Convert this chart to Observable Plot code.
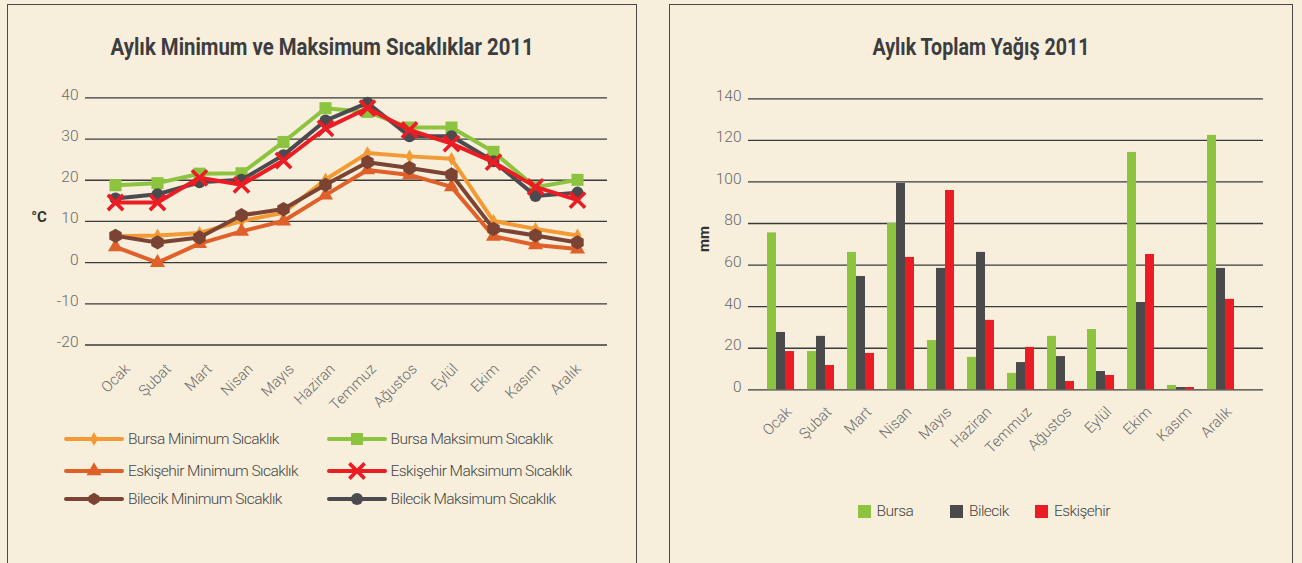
<!DOCTYPE html>
<html><head><meta charset="utf-8">
<script src="https://cdn.jsdelivr.net/npm/d3@7"></script>
<script src="https://cdn.jsdelivr.net/npm/@observablehq/plot@0.6"></script>
<style>
html,body{margin:0;padding:0;background:#F7EFDC;width:1302px;height:563px;overflow:hidden;}
#root{position:relative;width:1302px;height:563px;font-family:Roboto,"Noto Sans",sans-serif;}
.panel{position:absolute;top:4px;height:640px;border:1.6px solid #4a4a4a;box-sizing:border-box;}
.title{position:absolute;font-weight:700;color:#3d3d3f;white-space:nowrap;font-size:23px;line-height:1;}
.abs{position:absolute;}
.lg{position:absolute;display:flex;align-items:center;font-weight:300;font-size:15.5px;color:#444;white-space:nowrap;letter-spacing:-0.55px;}
.lg svg{margin-right:6px;overflow:visible;}
.ylab{position:absolute;font-weight:700;color:#333;font-size:15px;transform:translate(-50%,-50%);}
svg{overflow:visible;}
</style></head>
<body><div id="root"></div>
<script>
// ---------- data ----------
const months = ["Ocak","Şubat","Mart","Nisan","Mayıs","Haziran","Temmuz","Ağustos","Eylül","Ekim","Kasım","Aralık"];
const tempTicks = [-20,-10,0,10,20,30,40];
const rainTicks = [0,20,40,60,80,100,120,140];

const bursaMin     = [6.4, 6.6, 7.2, 10.1, 12.1, 20.2, 26.6, 25.8, 25.2, 10.1, 8.2, 6.6];
const eskisehirMin = [3.8, 0.0, 4.6, 7.6, 10.1, 16.4, 22.5, 21.3, 18.4, 6.4, 4.3, 3.3];
const bilecikMin   = [6.5, 4.9, 6.1, 11.5, 13.0, 18.9, 24.4, 23.0, 21.4, 8.2, 6.6, 4.9];
const bursaMax     = [18.8, 19.3, 21.6, 21.7, 29.3, 37.5, 36.6, 32.8, 32.8, 26.9, 18.3, 20.1];
const bilecikMax   = [15.6, 16.6, 19.5, 20.1, 26.1, 34.5, 38.8, 30.7, 30.7, 24.6, 16.2, 17.0];
const eskisehirMax = [14.6, 14.6, 20.6, 18.9, 24.8, 32.6, 37.5, 32.2, 28.9, 24.4, 18.4, 15.2];

const bursaRain     = [75.5, 18.4, 66.1, 80.0, 23.7, 15.6, 7.9, 25.7, 29.0, 114.2, 2.1, 122.4];
const bilecikRain   = [27.6, 25.7, 54.5, 99.3, 58.4, 66.1, 13.1, 16.0, 8.8, 42.0, 1.1, 58.4];
const eskisehirRain = [18.4, 11.7, 17.5, 63.7, 95.9, 33.4, 20.4, 4.0, 6.9, 65.1, 1.1, 43.5];

const tempTitle = "Aylık Minimum ve Maksimum Sıcaklıklar 2011";
const rainTitle = "Aylık Toplam Yağış 2011";

// series definitions (drawing order)
const tempSeries = [
  {name:"Bursa Minimum Sıcaklık", values: bursaMin, color:"#F39A34", symbol:"diamond", r:4.2},
  {name:"Eskişehir Minimum Sıcaklık", values: eskisehirMin, color:"#E0602A", symbol:"triangle", r:5.6},
  {name:"Bilecik Minimum Sıcaklık", values: bilecikMin, color:"#7A4334", symbol:"hexagon", r:6.2},
  {name:"Bursa Maksimum Sıcaklık", values: bursaMax, color:"#8CC43F", symbol:"square", r:6.8},
  {name:"Bilecik Maksimum Sıcaklık", values: bilecikMax, color:"#4A4A4F", symbol:"circle", r:6},
  {name:"Eskişehir Maksimum Sıcaklık", values: eskisehirMax, color:"#EC1C24", symbol:"times", r:7}
];
const legendOrder = [
  ["Bursa Minimum Sıcaklık","Bursa Maksimum Sıcaklık"],
  ["Eskişehir Minimum Sıcaklık","Eskişehir Maksimum Sıcaklık"],
  ["Bilecik Minimum Sıcaklık","Bilecik Maksimum Sıcaklık"]
];
const rainSeries = [
  {name:"Bursa", values: bursaRain, color:"#8CC43F"},
  {name:"Bilecik", values: bilecikRain, color:"#4A4A4D"},
  {name:"Eskişehir", values: eskisehirRain, color:"#EC1C24"}
];

const root = document.getElementById("root");
function el(tag, cls, css, text){const e=document.createElement(tag); if(cls) e.className=cls; if(css) Object.assign(e.style, css); if(text!=null) e.textContent=text; root.appendChild(e); return e;}

// panels
el("div","panel",{left:"7px",width:"630px"});
el("div","panel",{left:"669px",width:"624px"});
function title(text, cx, cy, targetW){
  const t = el("div","title",{left:"0px",top:"0px"},text);
  const w = t.offsetWidth, h = t.offsetHeight;
  const k = targetW / w;
  t.style.left = (cx - w/2) + "px";
  t.style.top = (cy - h/2) + "px";
  t.style.transform = `scaleX(${k})`;
  t.style.transformOrigin = "50% 50%";
}
title(tempTitle, 322, 47, 423);
title(rainTitle, 981, 47, 217);
el("div","ylab",{left:"39px",top:"217px"},"°C");
el("div","ylab",{left:"704px",top:"239px",transform:"translate(-50%,-50%) rotate(-90deg)"},"mm");

const tickFont = {fill:"#6a6a6a", fontSize: 15.5, fontWeight: 300, fontFamily:"Roboto"};

// ---------- temperature chart ----------
const tempData = tempSeries.flatMap(s => s.values.map((v,i)=>({series:s.name, month:months[i], value:v})));
const symbolOf = Object.fromEntries(tempSeries.map(s=>[s.name,s]));
const tempMarks = [
  Plot.ruleY(tempTicks, {stroke:"#3a3a3a", strokeWidth:1.3}),
  Plot.text(tempTicks, {y:d=>d, frameAnchor:"left", textAnchor:"end", dx:-7, dy:-3, text:d=>String(d), ...tickFont})
];
for (const s of tempSeries) {
  const d = tempData.filter(t=>t.series===s.name);
  tempMarks.push(Plot.line(d, {x:"month", y:"value", stroke:s.color, strokeWidth:4}));
  if (s.symbol === "times") {
    tempMarks.push(Plot.dot(d, {x:"month", y:"value", symbol:"times", r:s.r, stroke:s.color, strokeWidth:3.6}));
  } else {
    tempMarks.push(Plot.dot(d, {x:"month", y:"value", symbol:s.symbol, r:s.r, fill:s.color, stroke:"none"}));
  }
}
const p1 = Plot.plot({
  width:640, height:400, marginLeft:85, marginRight:33, marginTop:97.4, marginBottom:55.5,
  x:{type:"point", domain:months, padding:0.65, axis:null},
  y:{domain:[-20,40], axis:null},
  style:"background:transparent;overflow:visible;max-width:none;",
  marks: tempMarks
});
Object.assign(p1.style,{position:"absolute",left:"0px",top:"0px"});
root.appendChild(p1);

// month labels for temperature chart
const p1b = Plot.plot({
  width:640, height:400, marginLeft:0, marginRight:0, marginTop:366, marginBottom:20,
  x:{type:"point", domain:months, range:[127,578.7], padding:0, axis:null},
  style:"background:transparent;overflow:visible;max-width:none;",
  marks:[Plot.text(months,{x:d=>d, frameAnchor:"top", lineAnchor:"middle", rotate:-45, textAnchor:"end", ...tickFont, fontSize:15})]
});
Object.assign(p1b.style,{position:"absolute",left:"0px",top:"0px",pointerEvents:"none"});
root.appendChild(p1b);

// legend for temperature chart
function symbolPath(type, r){
  if (type==="hexagon"){const pts=d3.range(6).map(k=>{const a=Math.PI/6+k*Math.PI/3;return [r*Math.cos(a), r*Math.sin(a)];});return "M"+pts.join("L")+"Z";}
  const map={diamond:d3.symbolDiamond,triangle:d3.symbolTriangle,square:d3.symbolSquare,circle:d3.symbolCircle,times:d3.symbolTimes};
  return d3.symbol(map[type], r*r*Math.PI)();
}
const rowY = [439.3, 470.7, 499.3];
const colX = [66, 328.5];
legendOrder.forEach((row, ri) => row.forEach((name, ci) => {
  const s = symbolOf[name];
  const div = el("div","lg",{left:colX[ci]+"px", top:(rowY[ri]-10)+"px", height:"20px"});
  const svg = d3.create("svg").attr("width",56).attr("height",20);
  svg.append("line").attr("x1",0).attr("x2",56).attr("y1",10).attr("y2",10).attr("stroke",s.color).attr("stroke-width",4).attr("stroke-linecap","round");
  const path = svg.append("path").attr("transform","translate(28,10)").attr("d",symbolPath(s.symbol, s.r));
  if (s.symbol==="times") path.attr("fill","none").attr("stroke",s.color).attr("stroke-width",3.6);
  else path.attr("fill",s.color);
  div.appendChild(svg.node());
  const t=document.createElement("span"); t.textContent=name; div.appendChild(t);
}));

// ---------- rainfall chart ----------
const rainData = rainSeries.flatMap(s => s.values.map((v,i)=>({series:s.name, month:months[i], value:v})));
const insets = [{insetLeft:0, insetRight:18},{insetLeft:9, insetRight:9},{insetLeft:18, insetRight:0}];
const p2 = Plot.plot({
  width:622, height:430, marginLeft:78, marginRight:29, marginTop:98.3, marginBottom:40.7,
  x:{type:"band", domain:months, paddingInner:0.332, paddingOuter:0.54, align:0.39, axis:null},
  y:{domain:[0,140], axis:null},
  style:"background:transparent;overflow:visible;max-width:none;",
  marks:[
    Plot.ruleY(rainTicks, {stroke:"#3a3a3a", strokeWidth:1.3}),
    Plot.text(rainTicks, {y:d=>d, frameAnchor:"left", textAnchor:"end", dx:-7, dy:-3, text:d=>String(d), ...tickFont}),
    ...rainSeries.map((s,k)=>Plot.barY(rainData.filter(d=>d.series===s.name), {x:"month", y:"value", fill:s.color, ...insets[k]})),
    Plot.text(months, {x:d=>d, frameAnchor:"bottom", dy:23, dx:11.4, rotate:-45, textAnchor:"end", ...tickFont, fontSize:15})
  ]
});
Object.assign(p2.style,{position:"absolute",left:"670px",top:"0px"});
root.appendChild(p2);

// legend for rainfall chart
const rainLegX = [857.6, 950, 1035];
rainSeries.forEach((s,k)=>{
  const div = el("div","lg",{left:rainLegX[k]+"px", top:"501px", height:"20px"});
  const svg = d3.create("svg").attr("width",13).attr("height",13);
  svg.append("rect").attr("width",13).attr("height",13).attr("fill",s.color);
  div.appendChild(svg.node());
  const t=document.createElement("span"); t.textContent=s.name; div.appendChild(t);
});
</script>
</body></html>
